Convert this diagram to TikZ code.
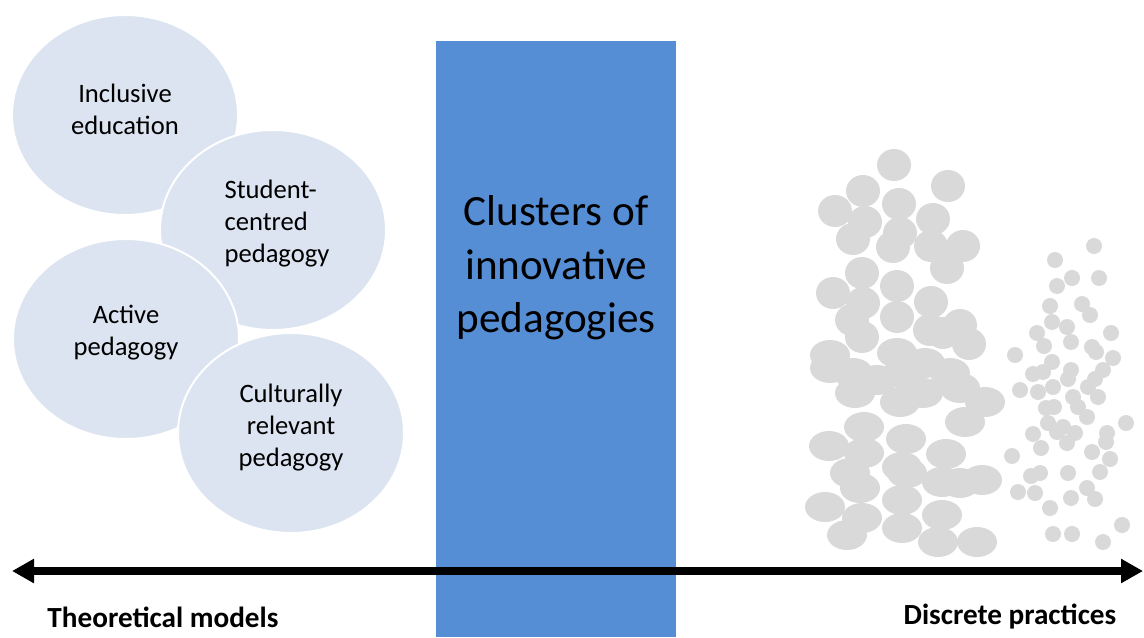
\documentclass[tikz,border=0pt]{standalone}
\usepackage{fontspec}
\setmainfont{Carlito}
\usetikzlibrary{shapes.geometric,arrows.meta}

\definecolor{bubblefill}{RGB}{219,228,240}
\definecolor{boxblue}{RGB}{85,142,213}
\definecolor{blobgrey}{RGB}{217,217,217}

\begin{document}
\begin{tikzpicture}[x=0.5pt,y=-0.5pt,
    bubble/.style={ellipse, fill=bubblefill, draw=white, line width=1pt,
        minimum width=113pt, minimum height=100pt, inner sep=0pt},
    bubbletext/.style={inner sep=0pt, font=\fontsize{13.3}{16}\selectfont},
    blob/.style={fill=blobgrey},
    axislabel/.style={font=\fontsize{14.6}{16}\selectfont\bfseries}]

    \useasboundingbox (0,0) rectangle (1144,637);

    % approaches on the left
    \node[bubble] (inclusive) at (125,115) {};
    \node[bubbletext, align=center] (inclusivetext) at ([yshift=2.6pt]inclusive.center) {Inclusive\\education};
    \node[bubble] (student) at (273,230) {};
    \node[bubbletext, align=left] (studenttext) at ([xshift=2pt,yshift=3pt]student.center) {Student-\\centred\\pedagogy};
    \node[bubble] (active) at (126,339) {};
    \node[bubbletext, align=center] (activetext) at ([yshift=3pt]active.center) {Active\\pedagogy};
    \node[bubble] (cultural) at (291,433) {};
    \node[bubbletext, align=center] (culturaltext) at ([yshift=2.6pt]cultural.center) {Culturally\\relevant\\pedagogy};

    % middle column
    \fill[boxblue] (436,41) rectangle (676,637);
    \node[align=center, font=\fontsize{21.6}{26.8}\selectfont] (clusters) at (556,268)
        {Clusters of\\innovative\\pedagogies};

    % big blobs
    \foreach \x/\y in {894/165, 948/186, 863/191, 835/211, 899/204, 865/222,
        933/219, 853/239, 900/233, 893/247, 931/246, 963/246, 947/268,
        862/273, 833/293, 897/286, 931/302, 863/303, 852/320, 897/317,
        930/330, 960/325, 969/344, 943/333, 862/337}
        \fill[blob] (\x,\y) ellipse (8.5pt and 8pt);
    \foreach \x/\y in {830/355, 897/353, 925/363, 950/373, 830/368, 853/373,
        855/393, 900/402, 923/393, 960/388, 985/402, 965/422, 877/380,
        903/373, 864/427, 829/446, 906/439, 946/454, 864/453, 850/473,
        902/467, 907/473, 860/488, 942/482, 960/483, 982/480, 825/507,
        902/500, 942/515, 862/518, 847/535, 902/528, 938/542, 977/542}
        \fill[blob] (\x,\y) ellipse (10pt and 7.5pt);

    % small dots
    \foreach \x/\y in {1094/246, 1055/260, 1072/278, 1099/278, 1057/286,
        1050/306, 1082/304, 1090/315, 1052/322, 1067/327, 1111/333,
        1037/333, 1071/342, 1044/346, 1092/347, 1096/352, 1113/358,
        1015/355, 1052/362, 1043/372, 1033/374, 1071/370, 1068/379,
        1103/370, 1095/379, 1088/387, 1020/390, 1038/392, 1053/387,
        1098/397, 1073/397, 1078/407, 1046/408, 1054/407, 1087/417,
        1126/423, 1048/423, 1057/432, 1063/427, 1075/433, 1067/443,
        1033/434, 1041/448, 1107/433, 1106/442, 1012/456, 1092/452,
        1110/459, 1100/472, 1068/473, 1040/473, 1031/476, 1018/492,
        1035/493, 1087/488, 1095/499, 1071/498, 1050/508, 1122/525,
        1053/534, 1072/534, 1103/542}
        \fill[blob] (\x,\y) circle (4pt);

    % axis
    \coordinate (leftend) at (12,571);
    \coordinate (rightend) at (1143,571);
    \draw[line width=3.6pt, {Triangle[length=11pt,width=11.5pt]}-{Triangle[length=11pt,width=11.5pt]}]
        (leftend) -- (rightend);

    \node[axislabel] (theory) at (163,617) {Theoretical models};
    \node[axislabel] (discrete) at (1010,617) {Discrete practices};
\end{tikzpicture}
\end{document}
